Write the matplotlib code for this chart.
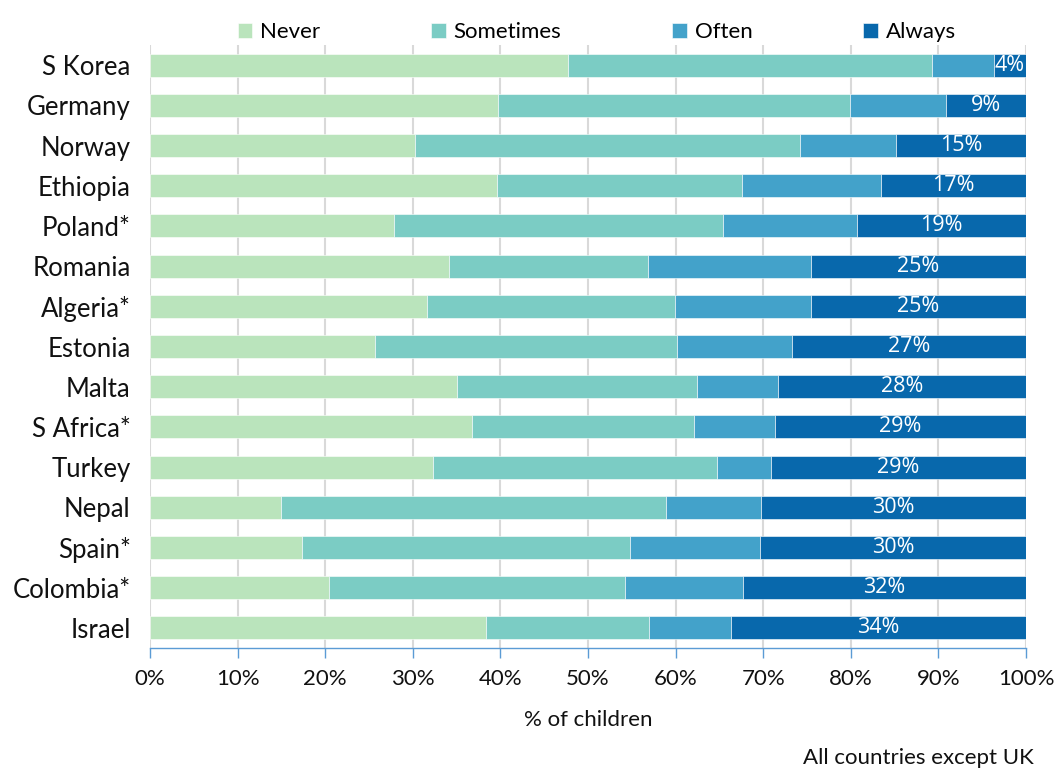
import matplotlib
matplotlib.use("Agg")
import matplotlib.pyplot as plt
import numpy as np

plt.rcParams['font.family'] = ['Lato', 'DejaVu Sans']

countries = ['S Korea', 'Germany', 'Norway', 'Ethiopia', 'Poland*', 'Romania',
             'Algeria*', 'Estonia', 'Malta', 'S Africa*', 'Turkey', 'Nepal',
             'Spain*', 'Colombia*', 'Israel']
never = [47.7, 39.7, 30.3, 39.6, 27.8, 34.1, 31.6, 25.7, 35.0, 36.8, 32.3, 14.9, 17.4, 20.4, 38.4]
sometimes = [41.6, 40.2, 43.9, 28.0, 37.6, 22.7, 28.3, 34.5, 27.4, 25.3, 32.4, 44.0, 37.4, 33.8, 18.6]
often = [7.0, 11.0, 11.0, 15.8, 15.3, 18.6, 15.5, 13.1, 9.3, 9.2, 6.2, 10.8, 14.8, 13.5, 9.3]
always = [3.7, 9.1, 14.8, 16.6, 19.3, 24.6, 24.6, 26.7, 28.3, 28.7, 29.1, 30.3, 30.4, 32.3, 33.7]

series = [('Never', never, '#bae4bc'),
          ('Sometimes', sometimes, '#7bccc4'),
          ('Often', often, '#43a2ca'),
          ('Always', always, '#0868ac')]

fig = plt.figure(figsize=(10.57, 7.71), dpi=100)
ax = fig.add_axes([0.1419, 0.1595, 0.8288, 0.7821])

y = np.arange(len(countries))
left = np.zeros(len(countries))
for name, vals, col in series:
    vals = np.array(vals)
    ax.barh(y, vals, left=left, height=0.57, color=col, label=name,
            edgecolor='white', linewidth=0.4, zorder=3)
    left = left + vals

# data labels on the Always segment
start = left - np.array(always)
for i, v in enumerate(always):
    ax.text(start[i] + v / 2, y[i], '{:.0f}%'.format(v), color='white',
            ha='center', va='center', fontsize=15.5, family=['Open Sans', 'DejaVu Sans'],
            zorder=4)

ax.set_xlim(0, 100)
ax.set_ylim(len(countries) - 0.5, -0.5)
ax.set_yticks(y)
ax.set_yticklabels(countries, fontsize=18.5, color='#111111')
ax.set_xticks(np.arange(0, 101, 10))
ax.set_xticklabels(['{}%'.format(t) for t in range(0, 101, 10)], fontsize=16, color='#111111')
ax.tick_params(axis='y', length=0, pad=14)
ax.tick_params(axis='x', length=7, width=1, color='#5b9bd5', direction='out', pad=8)

ax.grid(axis='x', color='#d9d9d9', linewidth=1.5, zorder=0)
for s in ['top', 'right', 'left']:
    ax.spines[s].set_visible(False)
ax.spines['bottom'].set_color('#5b9bd5')
ax.spines['bottom'].set_linewidth(1)

ax.set_xlabel('% of children', fontsize=16, color='#111111', labelpad=15)

ax.legend(loc='lower center', bbox_to_anchor=(0.51, 0.99), ncol=4, frameon=False,
          fontsize=16, handlelength=0.65, handleheight=0.65, handletextpad=0.35,
          columnspacing=5.0, borderaxespad=0)

fig.text(0.978, 0.004, 'All countries except UK', ha='right', va='bottom',
         fontsize=16, color='#111111')

fig.savefig('out.png', dpi=100)
